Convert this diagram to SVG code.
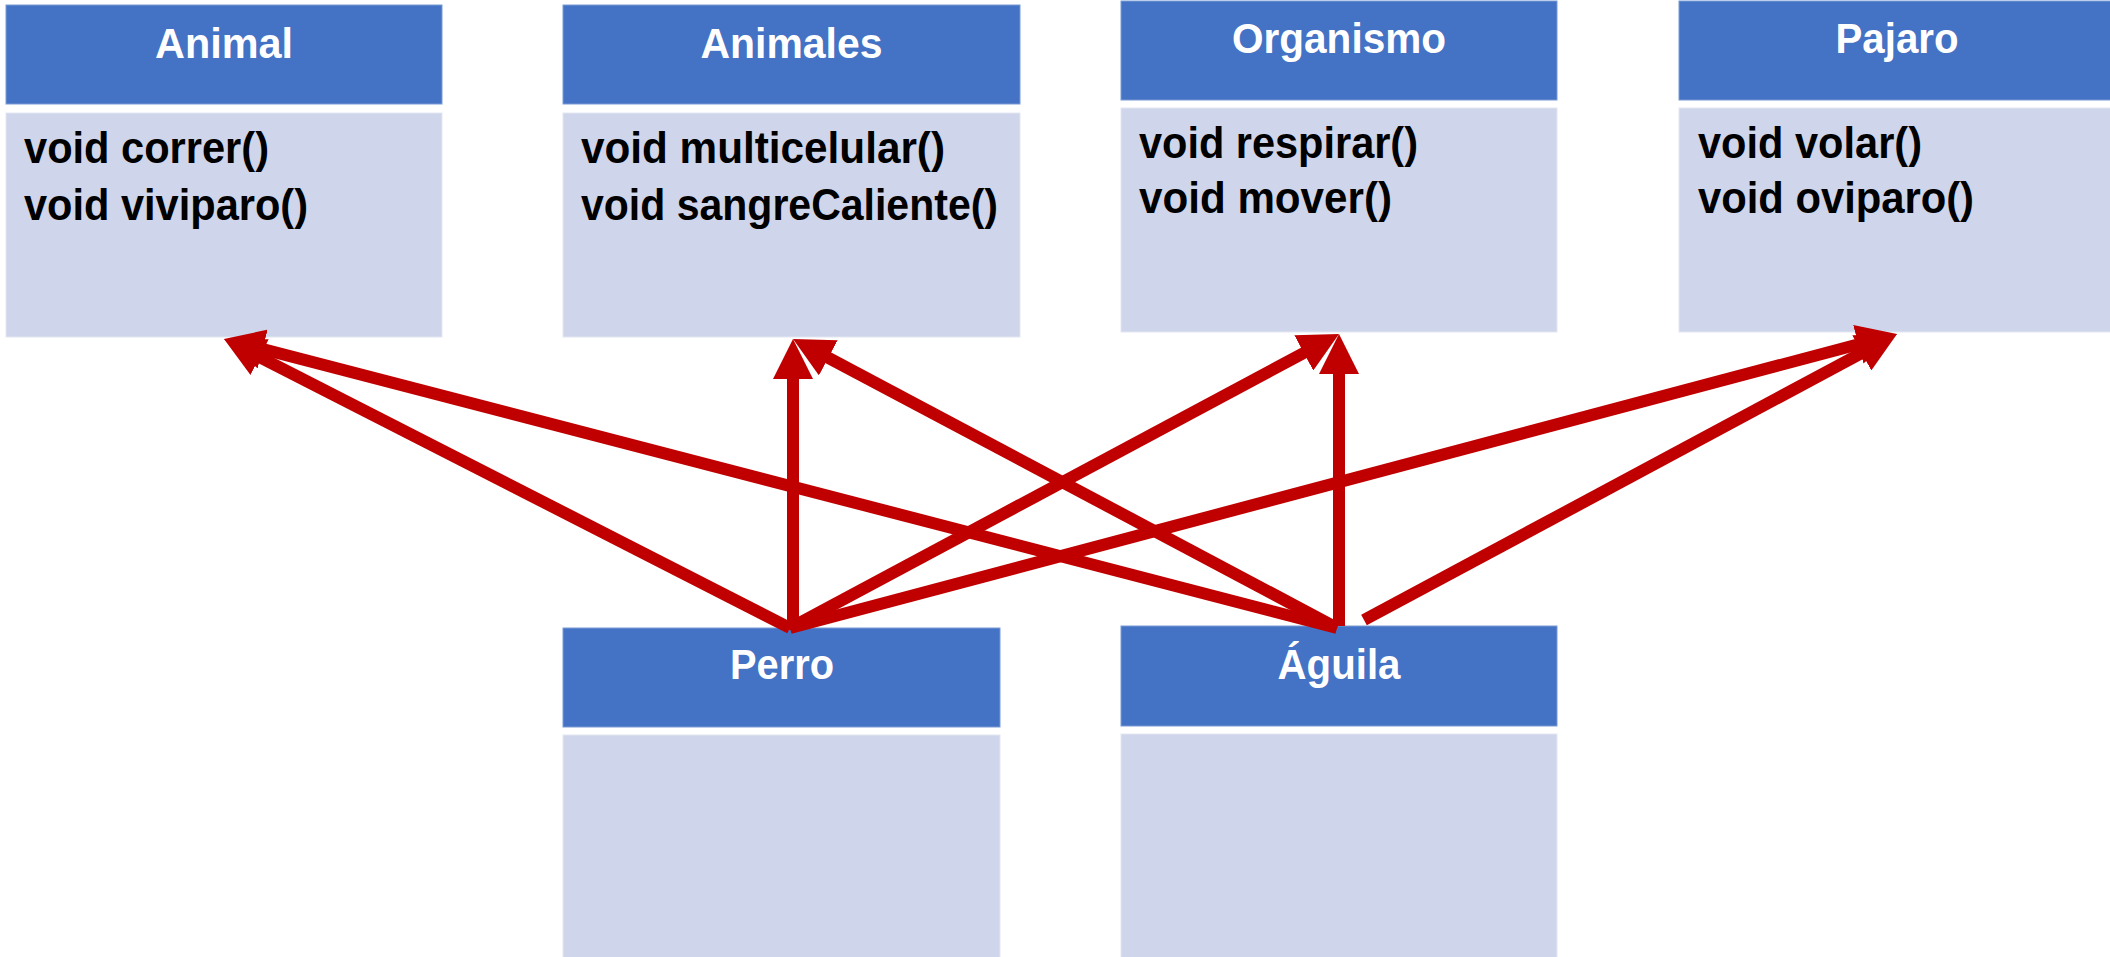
<svg xmlns="http://www.w3.org/2000/svg" width="2110" height="957" viewBox="0 0 2110 957">
<defs>
<style>
.hdr{fill:#4472C4;stroke:#7A9BD6;stroke-width:1}
.body{fill:#CFD5EA;stroke:#E3E7F3;stroke-width:1}
.ht{font-family:"Liberation Sans",Arial,sans-serif;font-weight:bold;font-size:43px;fill:#FFFFFF;text-anchor:middle}
.bt{font-family:"Liberation Sans",Arial,sans-serif;font-weight:bold;font-size:44px;fill:#000000}
.arr{stroke:#C00000;stroke-width:12;fill:none;marker-end:url(#ah)}
</style>
<marker id="ah" markerUnits="userSpaceOnUse" markerWidth="40" markerHeight="40" refX="10" refY="20" orient="auto" viewBox="0 0 40 40">
<path d="M0,0 L40,20 L0,40 z" fill="#C00000"/>
</marker>
</defs>
<rect width="2110" height="957" fill="#FFFFFF"/>
<g id="Animal">
<rect class="hdr" x="6" y="5" width="436" height="99"/>
<rect class="body" x="6" y="113" width="436" height="224"/>
<text class="ht" x="224" y="58" textLength="138" lengthAdjust="spacingAndGlyphs">Animal</text>
<text class="bt" x="24" y="163" textLength="245" lengthAdjust="spacingAndGlyphs">void correr()</text>
<text class="bt" x="24" y="220" textLength="284" lengthAdjust="spacingAndGlyphs">void viviparo()</text>
</g>
<g id="Animales">
<rect class="hdr" x="563" y="5" width="457" height="99"/>
<rect class="body" x="563" y="113" width="457" height="224"/>
<text class="ht" x="791.5" y="58" textLength="182" lengthAdjust="spacingAndGlyphs">Animales</text>
<text class="bt" x="581" y="163" textLength="364" lengthAdjust="spacingAndGlyphs">void multicelular()</text>
<text class="bt" x="581" y="220" textLength="417" lengthAdjust="spacingAndGlyphs">void sangreCaliente()</text>
</g>
<g id="Organismo">
<rect class="hdr" x="1121" y="1" width="436" height="99"/>
<rect class="body" x="1121" y="108" width="436" height="224"/>
<text class="ht" x="1339" y="53" textLength="214" lengthAdjust="spacingAndGlyphs">Organismo</text>
<text class="bt" x="1139" y="158" textLength="279" lengthAdjust="spacingAndGlyphs">void respirar()</text>
<text class="bt" x="1139" y="213" textLength="253" lengthAdjust="spacingAndGlyphs">void mover()</text>
</g>
<g id="Pajaro">
<rect class="hdr" x="1679" y="1" width="436" height="99"/>
<rect class="body" x="1679" y="108" width="436" height="224"/>
<text class="ht" x="1897" y="53" textLength="123" lengthAdjust="spacingAndGlyphs">Pajaro</text>
<text class="bt" x="1698" y="158" textLength="224" lengthAdjust="spacingAndGlyphs">void volar()</text>
<text class="bt" x="1698" y="213" textLength="276" lengthAdjust="spacingAndGlyphs">void oviparo()</text>
</g>
<g id="Perro">
<rect class="hdr" x="563" y="628" width="437" height="99"/>
<rect class="body" x="563" y="735" width="437" height="230"/>
<text class="ht" x="782" y="679" textLength="104" lengthAdjust="spacingAndGlyphs">Perro</text>
</g>
<g id="Aguila">
<rect class="hdr" x="1121" y="626" width="436" height="100"/>
<rect class="body" x="1121" y="734" width="436" height="230"/>
<text class="ht" x="1339" y="679" textLength="123" lengthAdjust="spacingAndGlyphs">Águila</text>
</g>
<g id="connectors">
<line class="arr" x1="790" y1="628" x2="250.7" y2="352.6"/>
<line class="arr" x1="793" y1="630" x2="793" y2="369"/>
<line class="arr" x1="790" y1="628" x2="1312.6" y2="348.2"/>
<line class="arr" x1="790" y1="628" x2="1868" y2="341.7"/>
<line class="arr" x1="1337" y1="628" x2="253" y2="346.5"/>
<line class="arr" x1="1337" y1="628" x2="819.5" y2="353.1"/>
<line class="arr" x1="1339" y1="626" x2="1339" y2="364"/>
<line class="arr" x1="1364" y1="620" x2="1870.6" y2="348.2"/>
</g>
</svg>
